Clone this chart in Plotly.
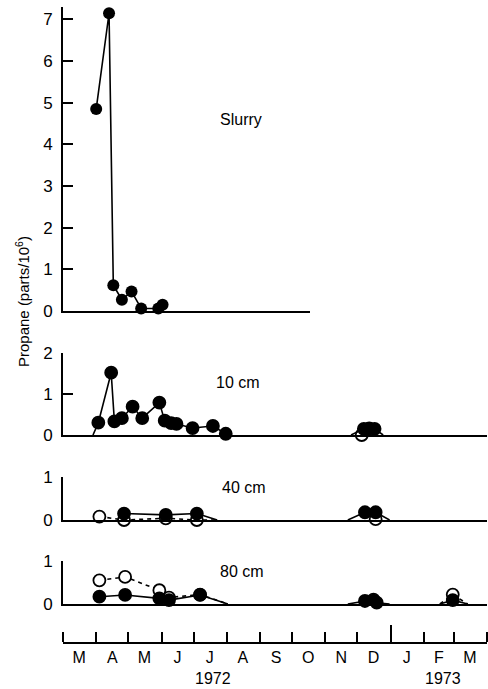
import plotly.graph_objects as go
import pandas as pd

# ---------------- data ----------------
axis_start = "1972-03-01"
axis_end = "1973-04-01"

month_mid = ["1972-03-16", "1972-04-16", "1972-05-16", "1972-06-16", "1972-07-16",
             "1972-08-16", "1972-09-16", "1972-10-16", "1972-11-16", "1972-12-16",
             "1973-01-16", "1973-02-15", "1973-03-16"]
month_letters = ["M", "A", "M", "J", "J", "A", "S", "O", "N", "D", "J", "F", "M"]
year_break = ["1973-01-01"]

# Slurry (filled circles)
slurry_dates = ["1972-04-01", "1972-04-13", "1972-04-17", "1972-04-25",
                "1972-05-04", "1972-05-13", "1972-05-29", "1972-06-02"]
slurry_vals = [4.85, 7.15, 0.62, 0.27, 0.47, 0.06, 0.06, 0.15]

# 10 cm
cm10_a_dates = ["1972-04-03", "1972-04-15", "1972-04-18", "1972-04-25", "1972-05-05",
                "1972-05-14", "1972-05-30", "1972-06-04", "1972-06-10", "1972-06-15",
                "1972-06-30", "1972-07-19", "1972-07-31"]
cm10_a_vals = [0.30, 1.52, 0.33, 0.41, 0.69, 0.41, 0.79, 0.35, 0.29, 0.27, 0.17, 0.22, 0.03]
cm10_a_zero = ["1972-03-29", None]
cm10_b_dates = ["1972-12-07", "1972-12-12", "1972-12-17"]
cm10_b_vals = [0.15, 0.16, 0.15]
cm10_b_zero = ["1972-11-25", "1972-12-25"]
cm10_open_dates = ["1972-12-05"]
cm10_open_vals = [0.0]

# 40 cm
cm40_a_dates = ["1972-04-27", "1972-06-05", "1972-07-04"]
cm40_a_vals = [0.15, 0.12, 0.15]
cm40_a_zero = [None, "1972-07-23"]
cm40_b_dates = ["1972-12-08", "1972-12-18"]
cm40_b_vals = [0.18, 0.18]
cm40_b_zero = ["1972-11-22", "1972-12-31"]
cm40_open_a_dates = ["1972-04-04", "1972-04-27", "1972-06-05", "1972-07-04"]
cm40_open_a_vals = [0.08, 0.0, 0.04, 0.0]
cm40_open_a_zero = [None, "1972-07-23"]
cm40_open_b_dates = ["1972-12-18"]
cm40_open_b_vals = [0.02]

# 80 cm
cm80_a_dates = ["1972-04-04", "1972-04-28", "1972-05-30", "1972-06-08", "1972-07-07"]
cm80_a_vals = [0.17, 0.21, 0.13, 0.09, 0.21]
cm80_a_zero = [None, "1972-08-02"]
cm80_b_dates = ["1972-12-08", "1972-12-16", "1972-12-19"]
cm80_b_vals = [0.07, 0.10, 0.03]
cm80_b_zero = ["1972-11-22", "1972-12-31"]
cm80_c_dates = ["1973-02-28"]
cm80_c_vals = [0.09]
cm80_c_zero = ["1973-02-16", "1973-03-14"]
cm80_open_a_dates = ["1972-04-04", "1972-04-28", "1972-05-30", "1972-06-08", "1972-07-07"]
cm80_open_a_vals = [0.55, 0.63, 0.32, 0.15, 0.22]
cm80_open_a_zero = [None, "1972-08-02"]
cm80_open_c_dates = ["1973-02-28"]
cm80_open_c_vals = [0.22]
cm80_open_c_zero = ["1973-02-16", "1973-03-14"]

panel_labels = ["Slurry", "10 cm", "40 cm", "80 cm"]

# ---------------- helpers ----------------
FONT = "Liberation Sans"
W, H = 488, 689
ML, MR = 63, 1
PW = W - ML - MR


def py(p):
    return 1 - p / H


def px(p):
    return (p - ML) / PW


def line_xy(segments):
    xs, ys = [], []
    for dates, vals, zero in segments:
        s, e = zero if zero else (None, None)
        if xs:
            xs.append(None)
            ys.append(None)
        if s:
            xs.append(s)
            ys.append(0)
        xs += list(dates)
        ys += list(vals)
        if e:
            xs.append(e)
            ys.append(0)
    return xs, ys


def add_series(fig, segs, ax, filled=True, dash="solid"):
    xs, ys = line_xy(segs)
    fig.add_trace(go.Scatter(x=xs, y=ys, mode="lines", xaxis="x" + ax, yaxis="y" + ax,
                             line=dict(color="black", width=1.6, dash=dash),
                             cliponaxis=False, hoverinfo="skip", connectgaps=False))
    mx, my = [], []
    for d, v, _ in segs:
        mx += list(d)
        my += list(v)
    fig.add_trace(go.Scatter(
        x=mx, y=my, mode="markers", xaxis="x" + ax, yaxis="y" + ax, cliponaxis=False,
        marker=dict(size=12, color="black" if filled else "white",
                    line=dict(color="black", width=1.8))))


fig = go.Figure()
# open series first so filled sit on top where overlapping
add_series(fig, [(cm10_open_dates, cm10_open_vals, None)], "2", filled=False)
add_series(fig, [(cm40_open_a_dates, cm40_open_a_vals, cm40_open_a_zero),
                 (cm40_open_b_dates, cm40_open_b_vals, None)], "3", filled=False, dash="4px,4px")
add_series(fig, [(cm80_open_a_dates, cm80_open_a_vals, cm80_open_a_zero),
                 (cm80_open_c_dates, cm80_open_c_vals, cm80_open_c_zero)], "4", filled=False,
           dash="4px,4px")

fig.add_trace(go.Scatter(x=slurry_dates, y=slurry_vals, mode="lines+markers", xaxis="x", yaxis="y",
                         cliponaxis=False, line=dict(color="black", width=1.6),
                         marker=dict(size=12, color="black")))
add_series(fig, [(cm10_a_dates, cm10_a_vals, cm10_a_zero),
                 (cm10_b_dates, cm10_b_vals, cm10_b_zero)], "2")
add_series(fig, [(cm40_a_dates, cm40_a_vals, cm40_a_zero),
                 (cm40_b_dates, cm40_b_vals, cm40_b_zero)], "3")
add_series(fig, [(cm80_a_dates, cm80_a_vals, cm80_a_zero),
                 (cm80_b_dates, cm80_b_vals, cm80_b_zero),
                 (cm80_c_dates, cm80_c_vals, cm80_c_zero)], "4")

# dummy traces so the month axes render
fig.add_trace(go.Scatter(x=[None], y=[None], xaxis="x5", yaxis="y5", hoverinfo="skip"))
fig.add_trace(go.Scatter(x=[None], y=[None], xaxis="x6", yaxis="y5", hoverinfo="skip"))

t0 = pd.Timestamp(axis_start)
t1 = pd.Timestamp(axis_end)
slurry_frac = px(310)
slurry_end = t0 + (t1 - t0) * slurry_frac

ax_common = dict(showline=True, linecolor="black", linewidth=1.6, showgrid=False,
                 zeroline=False, automargin=False)
xpanel = dict(ax_common, ticks="", showticklabels=False, type="date")
ypanel = dict(ax_common, ticks="inside", ticklen=10, tickwidth=1.6, tickcolor="black",
              tickfont=dict(family=FONT, size=17, color="black"), ticklabelstandoff=5,
              tickmode="array")

layout = dict(
    width=W, height=H, margin=dict(l=ML, r=MR, t=0, b=0, autoexpand=False),
    paper_bgcolor="white", plot_bgcolor="white", showlegend=False,
    font=dict(family=FONT, color="black"),
    xaxis=dict(xpanel, domain=[0, slurry_frac], range=[t0, slurry_end], anchor="y"),
    yaxis=dict(ypanel, domain=[py(311), py(7)], range=[0, 7.3], anchor="x",
               tickvals=list(range(8))),
    xaxis2=dict(xpanel, domain=[0, 1], range=[axis_start, axis_end], anchor="y2"),
    yaxis2=dict(ypanel, domain=[py(435), py(353)], range=[0, 2], anchor="x2", tickvals=[0, 1, 2]),
    xaxis3=dict(xpanel, domain=[0, 1], range=[axis_start, axis_end], anchor="y3"),
    yaxis3=dict(ypanel, domain=[py(520), py(477)], range=[0, 1], anchor="x3", tickvals=[0, 1]),
    xaxis4=dict(xpanel, domain=[0, 1], range=[axis_start, axis_end], anchor="y4"),
    yaxis4=dict(ypanel, domain=[py(604), py(561)], range=[0, 1], anchor="x4", tickvals=[0, 1]),
    xaxis5=dict(ax_common, type="date", domain=[0, 1], range=[axis_start, axis_end], anchor="y5",
                tickmode="array", tickvals=month_mid, ticktext=month_letters, ticks="",
                tickfont=dict(family=FONT, size=16, color="black"), ticklabelstandoff=0,
                minor=dict(ticks="inside", ticklen=10, tickwidth=1.6, tickcolor="black",
                           tick0=axis_start, dtick="M1", showgrid=False)),
    yaxis5=dict(domain=[py(642), py(628)], range=[0, 1], visible=False, anchor="x5"),
    xaxis6=dict(type="date", overlaying="x5", anchor="y5", range=[axis_start, axis_end],
                tickmode="array", tickvals=year_break, ticks="inside", ticklen=17,
                tickwidth=1.6, tickcolor="black", showticklabels=False, showline=False,
                showgrid=False, zeroline=False),
)
fig.update_layout(**layout)

ann = []
for lab, (xp, yp) in zip(panel_labels, [(241, 119), (238, 382), (244, 487), (242, 571)]):
    ann.append(dict(text=lab, x=px(xp), y=py(yp), xref="paper", yref="paper", showarrow=False,
                    xanchor="center", yanchor="middle",
                    font=dict(family=FONT, size=16, color="black")))
for yr, xp in [("1972", 213), ("1973", 443)]:
    ann.append(dict(text=yr, x=px(xp), y=py(678), xref="paper", yref="paper", showarrow=False,
                    xanchor="center", yanchor="middle",
                    font=dict(family=FONT, size=16, color="black")))
ann.append(dict(text="Propane (parts/10<sup>6</sup>)", x=px(22), y=py(302), xref="paper",
                yref="paper", showarrow=False, textangle=-90, xanchor="center", yanchor="middle",
                font=dict(family=FONT, size=15, color="black")))
fig.update_layout(annotations=ann)

fig.write_html("out.html", config={"displayModeBar": False},
               post_script="document.body.style.margin='0';")
